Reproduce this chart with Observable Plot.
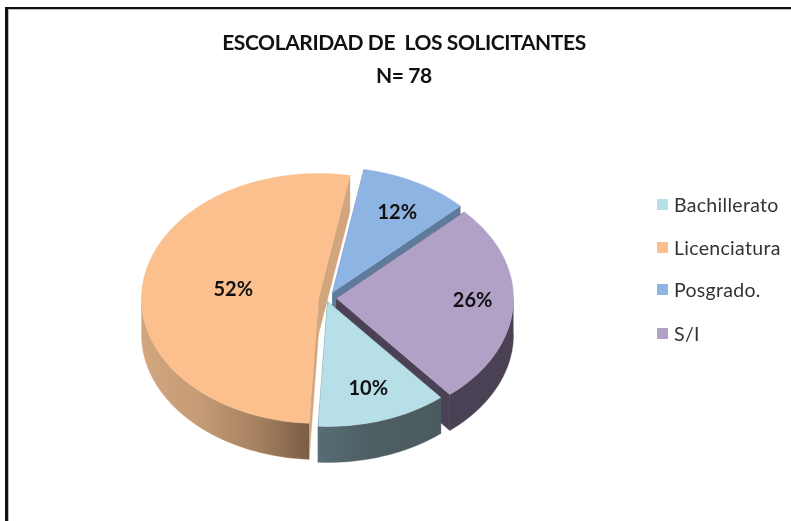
<!DOCTYPE html>
<html lang="es">
<head>
<meta charset="utf-8">
<script src="https://cdn.jsdelivr.net/npm/d3@7"></script>
<script src="https://cdn.jsdelivr.net/npm/@observablehq/plot@0.6"></script>
<style>
  html, body { margin: 0; padding: 0; background: #fff; }
  #stage { position: relative; width: 791px; height: 521px; overflow: hidden; font-family: Lato, "Open Sans", sans-serif; filter: blur(0.35px); }
  #frame { position: absolute; left: 5px; top: 7px; right: -10px; bottom: -10px; border-left: 3px solid #111; border-top: 2px solid #111; box-shadow: inset 1px 1px 0 #bbb; }
  #chart { position: absolute; left: 0; top: 0; }
  #title { position: absolute; left: 0; width: 808px; top: 25px; text-align: center; font-weight: 700; font-size: 21px; line-height: 33px; color: #111; letter-spacing: -0.4px; white-space: pre; }
  .key { position: absolute; left: 657px; display: flex; align-items: center; font-size: 19.5px; letter-spacing: 0.3px; color: #333; height: 24px; }
  .key i { display: block; width: 11px; height: 11px; margin-right: 6px; }
</style>
</head>
<body>
<div id="stage">
  <div id="frame"></div>
  <div id="chart"></div>
  <div id="title"></div>
  <div id="legend"></div>
</div>
<script>
// ---- data ----
const titleLines = ["ESCOLARIDAD DE  LOS SOLICITANTES", "N= 78"];
const categories = ["Bachillerato", "Licenciatura", "Posgrado.", "S/I"];
const printedLabels = ["10%", "52%", "12%", "26%"];
// share of the circle each slice really takes up in the drawing
const drawnShares = [11.9, 52, 10, 26.1];
const faceColors = ["#b7dfe8", "#fbc08e", "#8eb4e3", "#b2a1c7"];
const wallColors = ["#4c5a5e", "#d1a67e", "#5f7b9b", "#4a4254"];

// ---- layout of the tilted pie (pixels) ----
const W = 791, H = 521;
const cx = 318, cy = 298, rx = 177, ry = 125, depth = 36;
const startAngle = 140.2;                      // clockwise from the top
const explode = [[9, 3], [0, 0], [14, -6], [18, 0]];   // slice shift from centre
const labelRadius = [0.73, 0.485, 0.75, 0.77];
const labelShift = [[0, 0], [0, -2], [2, 3], [0, -3]]; // fine placement of the text
const drawOrder = [1, 2, 3, 0];                // back to front
const rimFill = ["url(#rim0)", "url(#rim1)", null, wallColors[3]];
const keyRows = [192, 235, 277, 321];

let a = startAngle;
const slices = categories.map((name, i) => {
  let from = a, to = a + drawnShares[i] * 3.6;
  a = to;
  if (from >= 360) { from -= 360; to -= 360; }
  return {i, name, from, to, ox: explode[i][0] / rx, oy: -explode[i][1] / ry};
});

const rad = (d) => d * Math.PI / 180;
const pt = (s, t, down = 0) => ({x: s.ox + Math.sin(rad(t)), y: s.oy + Math.cos(rad(t)) - down});
const arc = (s, t0, t1, down = 0) => {
  const n = Math.max(2, Math.ceil(Math.abs(t1 - t0) / 2));
  return d3.range(n + 1).map((k) => pt(s, t0 + (t1 - t0) * k / n, down));
};
const apex = (s, down = 0) => ({x: s.ox, y: s.oy - down});

const drop = depth / ry;
const poly = (points, fill) => Plot.line(points, {x: "x", y: "y", fill, stroke: fill, strokeWidth: 0.4, curve: "linear"});

const marks = [() => {
  const defs = d3.create("svg:defs");
  const grad = (id, stops) => {
    const g = defs.append("linearGradient").attr("id", id).attr("x1", 0).attr("x2", 1).attr("y1", 0).attr("y2", 0);
    stops.forEach(([o, c]) => g.append("stop").attr("offset", o).attr("stop-color", c));
  };
  grad("rim0", [[0, "#566d74"], [0.4, "#4e5f64"], [1, "#4b5a5e"]]);
  grad("rim1", [[0, "#d2a67f"], [0.35, "#c49b76"], [0.7, "#a5805f"], [1, "#7b5d44"]]);
  return defs.node();
}];

for (const i of drawOrder) {
  const s = slices[i];
  // straight cut walls
  for (const t of [s.from, s.to]) {
    marks.push(poly([apex(s), pt(s, t), pt(s, t, drop), apex(s, drop), apex(s)], wallColors[i]));
  }
  // curved rim: only where the circle's edge faces the viewer
  const v0 = Math.max(s.from, 90), v1 = Math.min(s.to, 270);
  if (v1 > v0) {
    marks.push(poly([...arc(s, v0, v1), ...arc(s, v1, v0, drop)], rimFill[i] ?? wallColors[i]));
  }
  // top face
  marks.push(poly([apex(s), ...arc(s, s.from, s.to), apex(s)], faceColors[i]));
}

// percentage labels
const labelRows = slices.map((s) => {
  const mid = (s.from + s.to) / 2;
  const r = labelRadius[s.i];
  const [sx, sy] = labelShift[s.i];
  return {
    x: s.ox + r * Math.sin(rad(mid)) + sx / rx,
    y: s.oy + r * Math.cos(rad(mid)) - sy / ry,
    text: printedLabels[s.i]
  };
});
marks.push(Plot.text(labelRows, {
  x: "x", y: "y", text: "text", fontSize: 20, fontWeight: 700,
  fontFamily: "Lato, 'Open Sans', sans-serif", fill: "#111"
}));

const chart = Plot.plot({
  width: W, height: H,
  marginTop: 0, marginRight: 0, marginBottom: 0, marginLeft: 0,
  style: {background: "transparent"},
  x: {type: "linear", axis: null, domain: [-cx / rx, (W - cx) / rx], range: [0, W]},
  y: {type: "linear", axis: null, domain: [cy / ry, (cy - H) / ry], range: [0, H]},
  marks
});
document.getElementById("chart").append(chart);

// title
const titleEl = document.getElementById("title");
titleLines.forEach((line) => {
  const d = document.createElement("div");
  d.textContent = line;
  titleEl.append(d);
});

// legend
const legendEl = document.getElementById("legend");
categories.forEach((name, i) => {
  const row = document.createElement("div");
  row.className = "key";
  row.style.top = keyRows[i] + "px";
  const sw = document.createElement("i");
  sw.style.background = faceColors[i];
  const label = document.createElement("span");
  label.textContent = name;
  row.append(sw, label);
  legendEl.append(row);
});
</script>
</body>
</html>
